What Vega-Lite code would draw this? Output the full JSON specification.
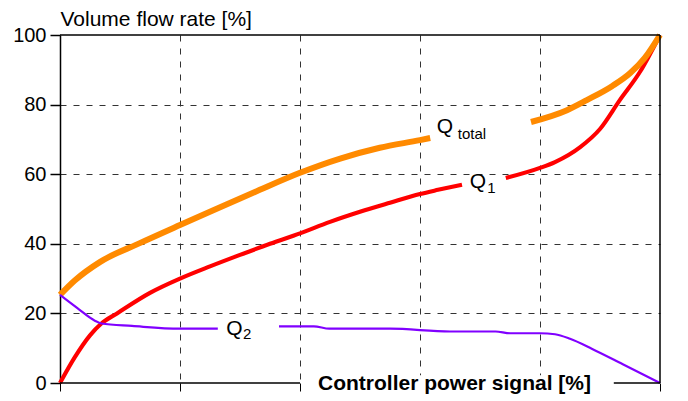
{
  "$schema": "https://vega.github.io/schema/vega-lite/v6.json",
  "width": 600,
  "height": 348,
  "autosize": {"type": "none"},
  "padding": {"left": 60, "top": 35, "right": 28, "bottom": 18},
  "background": "white",
  "config": {
    "view": {"stroke": null},
    "font": "Liberation Sans"
  },
  "datasets": {
    "curves": [
      {"series": "Q1", "seg": "Q1a", "x": 0, "y": 0},
      {"series": "Q1", "seg": "Q1a", "x": 2.5, "y": 7.5},
      {"series": "Q1", "seg": "Q1a", "x": 5, "y": 13.7},
      {"series": "Q1", "seg": "Q1a", "x": 6.9, "y": 17.1},
      {"series": "Q1", "seg": "Q1a", "x": 9.5, "y": 20},
      {"series": "Q1", "seg": "Q1a", "x": 15, "y": 25.9},
      {"series": "Q1", "seg": "Q1a", "x": 20, "y": 30},
      {"series": "Q1", "seg": "Q1a", "x": 25, "y": 33.5},
      {"series": "Q1", "seg": "Q1a", "x": 30, "y": 36.8},
      {"series": "Q1", "seg": "Q1a", "x": 35, "y": 40},
      {"series": "Q1", "seg": "Q1a", "x": 40, "y": 43},
      {"series": "Q1", "seg": "Q1a", "x": 45, "y": 46.3},
      {"series": "Q1", "seg": "Q1a", "x": 50, "y": 49.2},
      {"series": "Q1", "seg": "Q1a", "x": 55, "y": 51.8},
      {"series": "Q1", "seg": "Q1a", "x": 60, "y": 54.3},
      {"series": "Q1", "seg": "Q1a", "x": 63, "y": 55.5},
      {"series": "Q1", "seg": "Q1a", "x": 67, "y": 57},
      {"series": "Q1", "seg": "Q1b", "x": 74.3, "y": 58.9},
      {"series": "Q1", "seg": "Q1b", "x": 80, "y": 61.8},
      {"series": "Q1", "seg": "Q1b", "x": 82.5, "y": 63.5},
      {"series": "Q1", "seg": "Q1b", "x": 86.7, "y": 67.8},
      {"series": "Q1", "seg": "Q1b", "x": 90, "y": 73},
      {"series": "Q1", "seg": "Q1b", "x": 93.3, "y": 81.3},
      {"series": "Q1", "seg": "Q1b", "x": 96.7, "y": 89.5},
      {"series": "Q1", "seg": "Q1b", "x": 100, "y": 100},
      {"series": "Qtotal", "seg": "Qta", "x": 0, "y": 25.3},
      {"series": "Qtotal", "seg": "Qta", "x": 2.5, "y": 29.5},
      {"series": "Qtotal", "seg": "Qta", "x": 6.7, "y": 34.8},
      {"series": "Qtotal", "seg": "Qta", "x": 13.3, "y": 40.2},
      {"series": "Qtotal", "seg": "Qta", "x": 20, "y": 45.4},
      {"series": "Qtotal", "seg": "Qta", "x": 28.3, "y": 51.7},
      {"series": "Qtotal", "seg": "Qta", "x": 33.3, "y": 55.5},
      {"series": "Qtotal", "seg": "Qta", "x": 40, "y": 60.4},
      {"series": "Qtotal", "seg": "Qta", "x": 46.7, "y": 64.5},
      {"series": "Qtotal", "seg": "Qta", "x": 53.3, "y": 67.6},
      {"series": "Qtotal", "seg": "Qta", "x": 60, "y": 69.8},
      {"series": "Qtotal", "seg": "Qta", "x": 61.7, "y": 70.4},
      {"series": "Qtotal", "seg": "Qtb", "x": 78.5, "y": 75},
      {"series": "Qtotal", "seg": "Qtb", "x": 84.5, "y": 78.4},
      {"series": "Qtotal", "seg": "Qtb", "x": 87.8, "y": 81.3},
      {"series": "Qtotal", "seg": "Qtb", "x": 92, "y": 85.3},
      {"series": "Qtotal", "seg": "Qtb", "x": 95, "y": 89},
      {"series": "Qtotal", "seg": "Qtb", "x": 97.5, "y": 93.5},
      {"series": "Qtotal", "seg": "Qtb", "x": 100, "y": 100},
      {"series": "Q2", "seg": "Q2a", "x": 0, "y": 25.3},
      {"series": "Q2", "seg": "Q2a", "x": 2.9, "y": 21.5},
      {"series": "Q2", "seg": "Q2a", "x": 5.8, "y": 17.9},
      {"series": "Q2", "seg": "Q2a", "x": 6.9, "y": 17.1},
      {"series": "Q2", "seg": "Q2a", "x": 12, "y": 16.4},
      {"series": "Q2", "seg": "Q2a", "x": 20, "y": 15.6},
      {"series": "Q2", "seg": "Q2a", "x": 26.3, "y": 15.6},
      {"series": "Q2", "seg": "Q2b", "x": 36.5, "y": 16.3},
      {"series": "Q2", "seg": "Q2b", "x": 42.3, "y": 16.3},
      {"series": "Q2", "seg": "Q2b", "x": 44.9, "y": 15.6},
      {"series": "Q2", "seg": "Q2b", "x": 55, "y": 15.6},
      {"series": "Q2", "seg": "Q2b", "x": 65, "y": 14.8},
      {"series": "Q2", "seg": "Q2b", "x": 72.6, "y": 14.8},
      {"series": "Q2", "seg": "Q2b", "x": 75, "y": 14.3},
      {"series": "Q2", "seg": "Q2b", "x": 80, "y": 14.3},
      {"series": "Q2", "seg": "Q2b", "x": 82.5, "y": 14},
      {"series": "Q2", "seg": "Q2b", "x": 85, "y": 12.7},
      {"series": "Q2", "seg": "Q2b", "x": 88.7, "y": 9.8},
      {"series": "Q2", "seg": "Q2b", "x": 93.8, "y": 5.4},
      {"series": "Q2", "seg": "Q2b", "x": 100, "y": 0}
    ],
    "labels": [
      {"text": "Q", "kind": "main", "x": 62.8, "y": 73.6},
      {"text": "total", "kind": "sub", "x": 66.3, "y": 71.6},
      {"text": "Q", "kind": "main", "x": 68.3, "y": 57.8},
      {"text": "1", "kind": "sub", "x": 71.2, "y": 56},
      {"text": "Q", "kind": "main", "x": 27.7, "y": 15.5},
      {"text": "2", "kind": "sub", "x": 30.5, "y": 14.1}
    ],
    "frame": [
      {"x": 0, "x2": 40, "y": 0, "y2": 0},
      {"x": 92.3, "x2": 100, "y": 0, "y2": 0},
      {"x": 0, "x2": 100, "y": 100, "y2": 100},
      {"x": 100, "x2": 100, "y": 0, "y2": 100}
    ],
    "mask": [
      {"x": 42, "x2": 91.5, "y": -3, "y2": 2.2}
    ],
    "xtitle": [
      {"text": "Controller power signal [%]", "x": 43, "y": -0.4}
    ]
  },
  "layer": [
    {
      "data": {"name": "curves"},
      "mark": {"type": "line", "strokeCap": "butt", "strokeJoin": "round", "interpolate": "monotone"},
      "encoding": {
        "x": {
          "field": "x", "type": "quantitative",
          "scale": {"domain": [0, 100], "nice": false},
          "axis": {
            "values": [0, 20, 40, 60, 80, 100],
            "domain": false,
            "labels": false,
            "title": null,
            "ticks": true,
            "tickSize": 8,
            "tickColor": "black",
            "tickWidth": 1,
            "tickOpacity": {"condition": {"test": "datum.value > 40 && datum.value < 100", "value": 0}, "value": 1},
            "grid": true,
            "gridColor": "#333333",
            "gridDash": [6, 7],
            "gridWidth": 1,
            "gridOpacity": {"condition": {"test": "datum.value == 0 || datum.value == 100", "value": 0}, "value": 1}
          }
        },
        "y": {
          "field": "y", "type": "quantitative",
          "scale": {"domain": [0, 100], "nice": false},
          "axis": {
            "values": [0, 20, 40, 60, 80, 100],
            "domain": true,
            "domainColor": "black",
            "domainWidth": 1.5,
            "ticks": true,
            "tickSize": 10,
            "tickColor": "black",
            "tickWidth": 1.5,
            "labelFontSize": 20,
            "labelColor": "black",
            "labelPadding": 4,
            "labelFont": "Liberation Sans",
            "grid": true,
            "gridColor": "#333333",
            "gridDash": [6, 7],
            "gridWidth": 1,
            "gridOpacity": {"condition": {"test": "datum.value == 0 || datum.value == 100", "value": 0}, "value": 1},
            "title": "Volume flow rate [%]",
            "titleFont": "Liberation Sans",
            "titleFontSize": 21,
            "titleFontWeight": "normal",
            "titleColor": "black",
            "titleAngle": 0,
            "titleAlign": "left",
            "titleBaseline": "alphabetic",
            "titleX": 0,
            "titleY": -10
          }
        },
        "detail": {"field": "seg"},
        "color": {
          "field": "series", "type": "nominal",
          "scale": {"domain": ["Qtotal", "Q1", "Q2"], "range": ["#FF8A00", "#FF0000", "#8000FF"]},
          "legend": null
        },
        "strokeWidth": {
          "field": "series", "type": "nominal",
          "scale": {"domain": ["Qtotal", "Q1", "Q2"], "range": [6, 2.2, 2.2]},
          "legend": null
        }
      }
    },
    {
      "data": {"name": "frame"},
      "mark": {"type": "rule", "color": "black", "strokeWidth": 1.5},
      "encoding": {
        "x": {"field": "x", "type": "quantitative"},
        "x2": {"field": "x2"},
        "y": {"field": "y", "type": "quantitative"},
        "y2": {"field": "y2"}
      }
    },
    {
      "data": {"name": "mask"},
      "mark": {"type": "rect", "color": "white"},
      "encoding": {
        "x": {"field": "x", "type": "quantitative"},
        "x2": {"field": "x2"},
        "y": {"field": "y", "type": "quantitative"},
        "y2": {"field": "y2"}
      }
    },
    {
      "data": {"name": "xtitle"},
      "mark": {"type": "text", "align": "left", "baseline": "middle", "fontSize": 21, "fontWeight": "bold", "font": "Liberation Sans", "color": "black"},
      "encoding": {
        "x": {"field": "x", "type": "quantitative"},
        "y": {"field": "y", "type": "quantitative"},
        "text": {"field": "text"}
      }
    },
    {
      "data": {"name": "labels"},
      "mark": {"type": "text", "align": "left", "baseline": "middle", "font": "Liberation Sans", "color": "black"},
      "encoding": {
        "x": {"field": "x", "type": "quantitative"},
        "y": {"field": "y", "type": "quantitative"},
        "text": {"field": "text"},
        "size": {"field": "kind", "type": "nominal", "scale": {"domain": ["main", "sub"], "range": [21, 15]}, "legend": null}
      }
    }
  ]
}
